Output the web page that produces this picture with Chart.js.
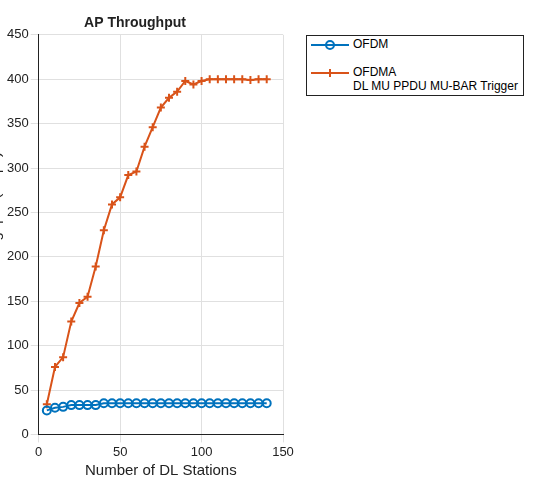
<!DOCTYPE html>
<html><head><meta charset="utf-8">
<script src="https://cdn.jsdelivr.net/npm/chart.js@4"></script>
<style>
body{margin:0;background:#fff;font-family:"Liberation Sans",Arial,sans-serif;overflow:hidden}
#wrap{position:absolute;left:-13px;top:0;width:311px;height:480px}
#legend{position:absolute;left:306px;top:35px;width:216px;height:59px;border:1px solid #222;font-size:12px;background:#fff}
.item{position:absolute;left:46px}
.sw{position:absolute;left:4px;width:38px}
</style></head><body>
<div id="wrap"><canvas id="c"></canvas></div>
<div id="legend">
  <svg class="sw" style="top:2px" width="38" height="14"><line x1="0" y1="7" x2="38" y2="7" stroke="#0072BD" stroke-width="2"/><circle cx="19" cy="7" r="4" fill="none" stroke="#0072BD" stroke-width="2"/></svg>
  <div class="item" style="top:1px">OFDM</div>
  <svg class="sw" style="top:30px" width="38" height="14"><line x1="0" y1="7" x2="38" y2="7" stroke="#D95319" stroke-width="2"/><line x1="15" y1="7" x2="23" y2="7" stroke="#D95319" stroke-width="2"/><line x1="19" y1="3" x2="19" y2="11" stroke="#D95319" stroke-width="2"/></svg>
  <div class="item" style="top:29px">OFDMA<br>DL MU PPDU MU-BAR Trigger</div>
</div>
<script>
const stations = [5,10,15,20,25,30,35,40,45,50,55,60,65,70,75,80,85,90,95,100,105,110,115,120,125,130,135,140];
const ofdm = [27,30,31,33,33,33,33,35,35,35,35,35,35,35,35,35,35,35,35,35,35,35,35,35,35,35,35,35];
const ofdma = [34,76,87,127,148,155,189,230,259,267,292,296,324,346,368,379,386,398,394,398,400,400,400,400,400,399,400,400];

new Chart(document.getElementById('c'), {
  type: 'line',
  data: {
    datasets: [
      { label: 'OFDM', data: stations.map((x, i) => ({x, y: ofdm[i]})), borderColor: '#0072BD', backgroundColor: 'transparent',
        borderWidth: 2, pointStyle: 'circle', pointRadius: 4, pointBorderWidth: 2, tension: 0 },
      { label: 'OFDMA', data: stations.map((x, i) => ({x, y: ofdma[i]})), borderColor: '#D95319', backgroundColor: 'transparent',
        borderWidth: 2, pointStyle: 'cross', pointRadius: 4, pointBorderWidth: 2, tension: 0 },
    ],
  },
  options: {
    responsive: true, maintainAspectRatio: false, animation: false,
    layout: { padding: { left: 0, right: 15, top: 0, bottom: 0 } },
    plugins: {
      legend: { display: false },
      title: { display: true, text: 'AP Throughput', color: '#222', font: { size: 14, weight: 'bold' }, padding: { top: 15, bottom: 3 } },
    },
    scales: {
      x: { type: 'linear', min: 0, max: 150, ticks: { stepSize: 50, color: '#222', font: { size: 13 }, padding: 2 },
           grid: { color: '#e0e0e0' }, border: { color: '#222' },
           title: { display: true, text: 'Number of DL Stations', color: '#222', font: { size: 15 }, padding: 0 } },
      y: { min: 0, max: 450, ticks: { stepSize: 50, color: '#222', font: { size: 13 }, padding: 2 },
           grid: { color: '#e0e0e0' }, border: { color: '#222' },
           title: { display: true, text: 'MAC Throughput (Mbps)', color: '#222', font: { size: 15 }, padding: 0 } },
    },
  },
});
</script>
</body></html>
